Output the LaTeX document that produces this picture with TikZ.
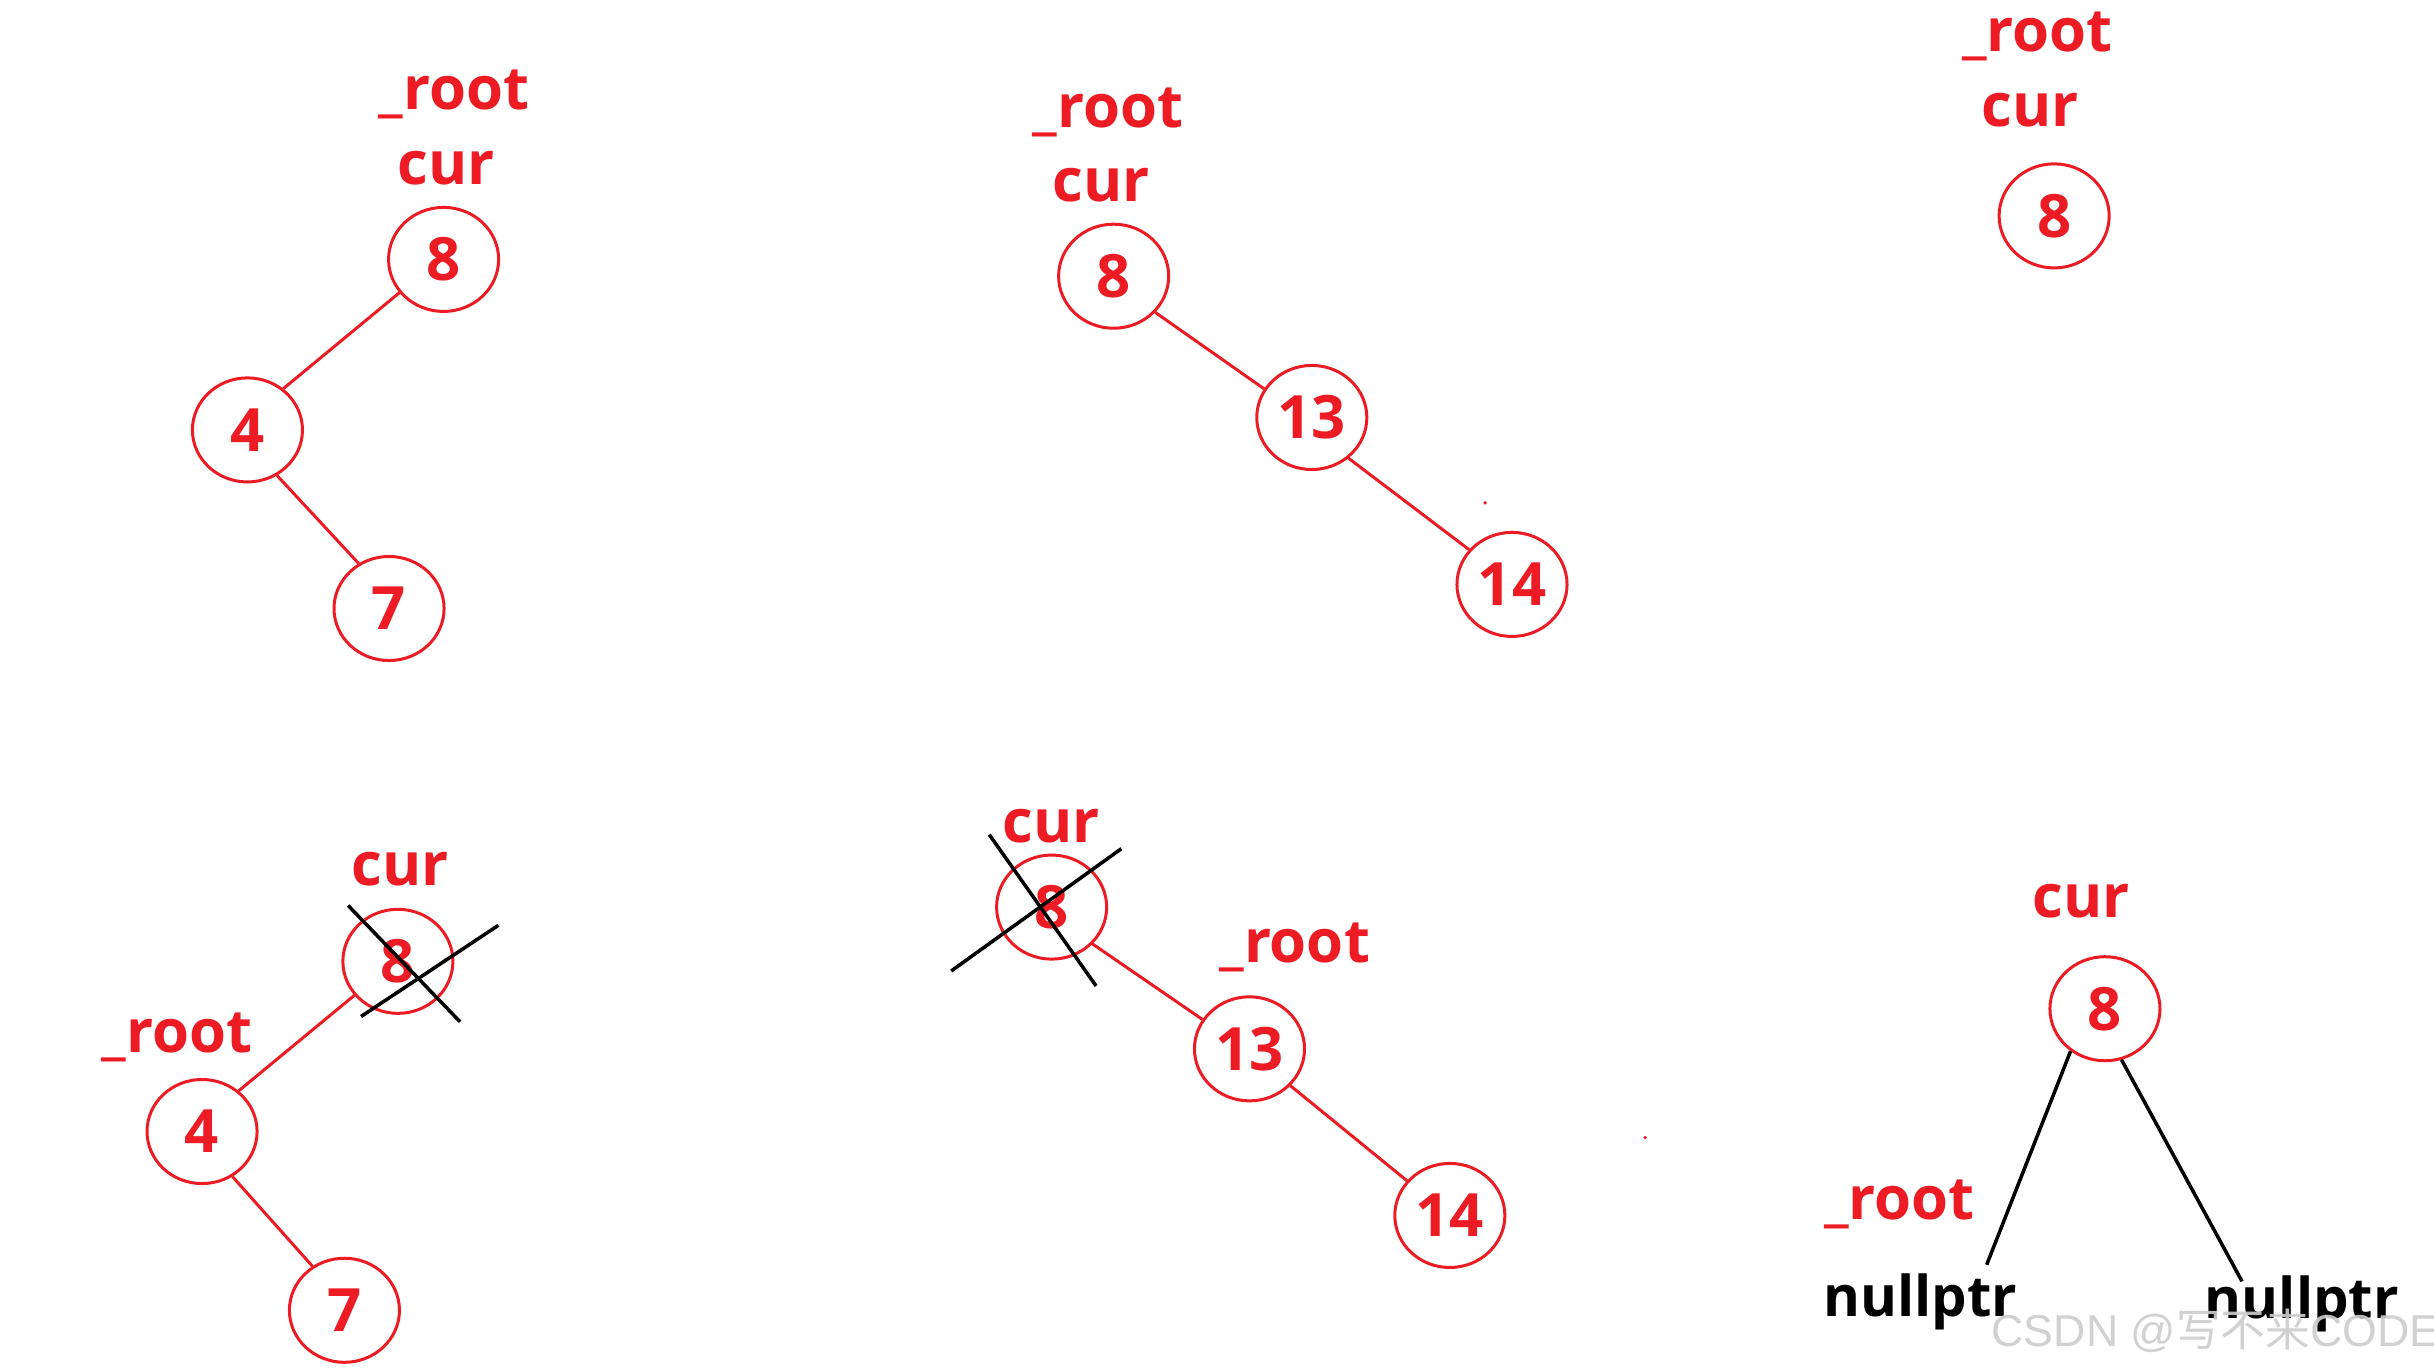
\documentclass[tikz,border=0pt]{standalone}
\usepackage{fontspec}
\setmainfont{Open Sans}
\newfontfamily\wmlatin{Liberation Sans}
\newfontfamily\wmcjk{Noto Sans CJK SC}
\usetikzlibrary{shapes.geometric}
\definecolor{pred}{RGB}{237,28,36}
\definecolor{wmgray}{RGB}{205,205,205}
\begin{document}
\begin{tikzpicture}[x=0.01554cm,y=-0.01554cm,
  tn/.style={ellipse, draw=pred, line width=0.85pt, text=pred, inner sep=0pt,
    minimum width=1.10cm, minimum height=1.04cm,
    font=\fontsize{17}{20}\selectfont\bfseries},
  lbl/.style={text=pred, inner sep=0pt, anchor=base,
    font=\fontsize{17}{20}\selectfont\bfseries},
  nl/.style={text=black, inner sep=0pt, anchor=base,
    font=\fontsize{16}{19}\selectfont\bfseries},
  redge/.style={draw=pred, line width=0.85pt},
  bedge/.style={draw=black, line width=1pt},
  reddot/.style={fill=pred, draw=none},
]
\fill[white] (0,0) rectangle (1566,881.5);
\useasboundingbox (0,0) rectangle (1566,881.5);

% ---------- panel 1 ----------
\node[lbl] (a_root) at (292,70.5) {\_root};
\node[lbl] (a_cur) at (287,118.4) {cur};
\node[tn] (a8) at (285.4,166.9) {8};
\node[tn] (a4) at (159.2,276.6) {4};
\node[tn] (a7) at (250.3,391.5) {7};
\draw[redge] (a8.217) -- (a4.49);
\draw[redge] (a4.303) -- (a7.124);

% ---------- panel 2 ----------
\node[lbl] (b_root) at (713,82.3) {\_root};
\node[lbl] (b_cur) at (708.5,129.6) {cur};
\node[tn] (b8) at (716.5,177.7) {8};
\node[tn] (b13) at (844,268.6) {13};
\node[tn] (b14) at (972.8,376) {14};
\draw[redge] (b8.319) -- (b13.149);
\draw[redge] (b13.312) -- (b14.141);
\fill[reddot] (955.5,323.5) circle (1.2);

% ---------- panel 3 ----------
\node[lbl] (c_root) at (1311,33.3) {\_root};
\node[lbl] (c_cur) at (1306,81.2) {cur};
\node[tn] (c8) at (1321.6,138.9) {8};

% ---------- panel 4 ----------
\node[lbl] (d_cur) at (257.7,569.8) {cur};
\node[lbl] (d_root) at (114,677) {\_root};
\node[tn] (d8) at (256,618.5) {8};
\node[tn] (d4) at (130,728) {4};
\node[tn] (d7) at (221.6,843) {7};
\draw[redge] (d8.218) -- (d4.48);
\draw[redge] (d4.304) -- (d7.126);
\coordinate (dx1a) at (224,582.6);
\coordinate (dx1b) at (296,657.4);
\coordinate (dx2a) at (232.3,654);
\coordinate (dx2b) at (320.7,595.3);
\draw[bedge] (dx1a) -- (dx1b);
\draw[bedge] (dx2a) -- (dx2b);

% ---------- panel 5 ----------
\node[lbl] (e_cur) at (676.5,542.3) {cur};
\node[lbl] (e_root) at (833,619.3) {\_root};
\node[tn] (e8) at (676.6,583.6) {8};
\node[tn] (e13) at (803.9,674.8) {13};
\node[tn] (e14) at (932.8,782) {14};
\draw[redge] (e8.318) -- (e13.148);
\draw[redge] (e13.318) -- (e14.141);
\coordinate (ex1a) at (636.5,537);
\coordinate (ex1b) at (705.2,634.3);
\coordinate (ex2a) at (612,624.7);
\coordinate (ex2b) at (721.5,546);
\draw[bedge] (ex1a) -- (ex1b);
\draw[bedge] (ex2a) -- (ex2b);
\fill[reddot] (1058.5,731.9) circle (1.2);

% ---------- panel 6 ----------
\node[lbl] (f_cur) at (1339,590.3) {cur};
\node[lbl] (f_root) at (1222,784.4) {\_root};
\node[tn] (f8) at (1354.3,649) {8};
\node[nl] (fnull1) at (1235.4,847) {nullptr};
\node[nl] (fnull2) at (1481,848.5) {nullptr};
\coordinate (fl) at (1278.2,813.7);
\coordinate (fr) at (1442.5,824.4);
\draw[bedge] (f8.231) -- (fl);
\draw[bedge] (f8.288) -- (fr);

% ---------- watermark ----------
\node[anchor=base west, inner sep=0pt, text=wmgray, opacity=0.9,
  font=\fontsize{12.7}{15}\selectfont] (wm) at (1281,866)
  {{\wmlatin CSDN @}{\wmcjk 写不来}{\wmlatin CODE}};
\end{tikzpicture}
\end{document}
